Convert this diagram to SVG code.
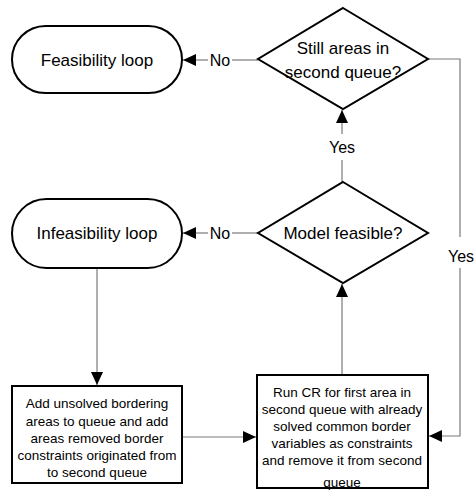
<svg xmlns="http://www.w3.org/2000/svg" width="474" height="499" viewBox="0 0 474 499">
  <style>
    .shape { fill: #ffffff; stroke: #000000; stroke-width: 2; }
    .conn { fill: none; stroke: #7a7a7a; stroke-width: 1.2; }
    .lbl { font-family: "Liberation Sans", Arial, sans-serif; fill: #000000; text-anchor: middle; dominant-baseline: central; }
    .big { font-size: 17px; }
    .small { font-size: 13.5px; }
    .edge { font-size: 16px; }
  </style>
  <defs>
    <marker id="arrow" viewBox="0 0 10 10" refX="10" refY="5" markerWidth="13" markerHeight="12" markerUnits="userSpaceOnUse" orient="auto" preserveAspectRatio="none">
      <path d="M0,0 L10,5 L0,10 Z" fill="#000000"/>
    </marker>
  </defs>
  <rect width="474" height="499" fill="#ffffff"/>

  <!-- connectors -->
  <g id="connectors">
    <!-- No: still areas -> feasibility loop -->
    <line class="conn" x1="258" y1="60" x2="232" y2="60"/>
    <line class="conn" x1="208" y1="60" x2="183" y2="60" marker-end="url(#arrow)"/>
    <text class="lbl edge" x="220" y="60">No</text>
    <!-- No: model feasible -> infeasibility loop -->
    <line class="conn" x1="258" y1="233" x2="232" y2="233"/>
    <line class="conn" x1="208" y1="233" x2="183" y2="233" marker-end="url(#arrow)"/>
    <text class="lbl edge" x="220" y="233">No</text>
    <!-- Yes: model feasible -> still areas -->
    <line class="conn" x1="342" y1="182" x2="342" y2="160"/>
    <line class="conn" x1="342" y1="134" x2="342" y2="110" marker-end="url(#arrow)"/>
    <text class="lbl edge" x="342" y="147">Yes</text>
    <!-- Yes: still areas -> run CR -->
    <polyline class="conn" points="428,59 460,59 460,237"/>
    <polyline class="conn" points="460,268 460,436 429,436" marker-end="url(#arrow)"/>
    <text class="lbl edge" x="461" y="256">Yes</text>
    <!-- infeasibility loop -> add unsolved -->
    <line class="conn" x1="97" y1="268" x2="97" y2="385" marker-end="url(#arrow)"/>
    <!-- add unsolved -> run CR -->
    <line class="conn" x1="182" y1="437" x2="256" y2="437" marker-end="url(#arrow)"/>
    <!-- run CR -> model feasible -->
    <line class="conn" x1="342" y1="375" x2="342" y2="284" marker-end="url(#arrow)"/>
  </g>

  <g id="feasibility-loop">
    <rect class="shape" x="12" y="26" width="170" height="67" rx="33.5" ry="33.5"/>
    <text class="lbl big" x="97" y="60">Feasibility loop</text>
  </g>

  <g id="still-areas">
    <polygon class="shape" points="343,8 428,59 343,109 258,59"/>
    <text class="lbl big" x="343" y="48">Still areas in</text>
    <text class="lbl big" x="343" y="72">second queue?</text>
  </g>

  <g id="infeasibility-loop">
    <rect class="shape" x="12" y="199" width="170" height="69" rx="34.5" ry="34.5"/>
    <text class="lbl big" x="97" y="233">Infeasibility loop</text>
  </g>

  <g id="model-feasible">
    <polygon class="shape" points="343,182 428,233 343,283 258,233"/>
    <text class="lbl big" x="343" y="233">Model feasible?</text>
  </g>

  <g id="add-unsolved">
    <rect class="shape" x="12" y="386" width="170" height="97"/>
    <text class="lbl small" x="97" y="403">Add unsolved bordering</text>
    <text class="lbl small" x="97" y="421">areas to queue and add</text>
    <text class="lbl small" x="97" y="438">areas removed border</text>
    <text class="lbl small" x="97" y="455">constraints originated from</text>
    <text class="lbl small" x="97" y="472">to second queue</text>
  </g>

  <g id="run-cr">
    <rect class="shape" x="257" y="375" width="171" height="113"/>
    <text class="lbl small" x="342" y="392">Run CR for first area in</text>
    <text class="lbl small" x="342" y="409">second queue with already</text>
    <text class="lbl small" x="342" y="426">solved common border</text>
    <text class="lbl small" x="342" y="443">variables as constraints</text>
    <text class="lbl small" x="342" y="460">and remove it from second</text>
    <text class="lbl small" x="342" y="482">queue</text>
  </g>
</svg>
